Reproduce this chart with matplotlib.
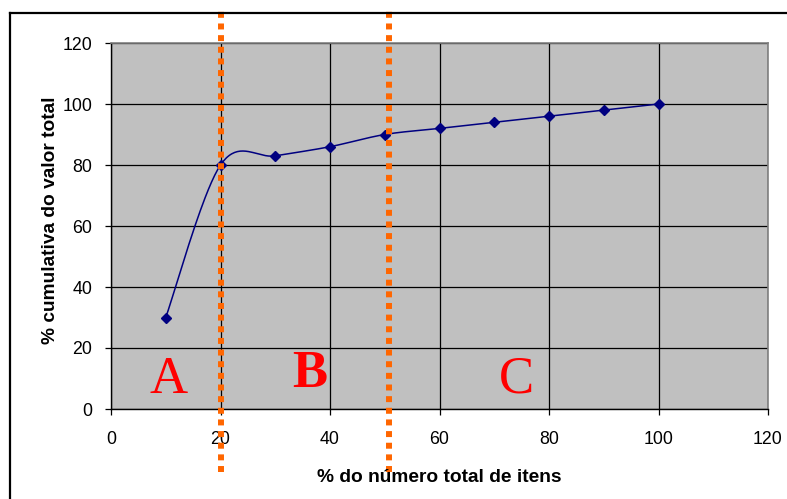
import numpy as np
import matplotlib
matplotlib.use("Agg")
import matplotlib.pyplot as plt
from matplotlib.lines import Line2D

# Data
x_pct_items = [10, 20, 30, 40, 50, 60, 70, 80, 90, 100]
y_cum_value = [30, 80, 83, 86, 90, 92, 94, 96, 98, 100]
boundaries = [20, 50.8]
zone_labels = ["A", "B", "C"]
zone_x = [10.6, 36.3, 74.0]
zone_y = [5.3, 7.2, 5.3]
zone_bold = [False, True, False]
ticks = [0, 20, 40, 60, 80, 100, 120]

plt.rcParams['font.family'] = ['Liberation Sans', 'DejaVu Sans']

W, H = 787, 499
fig = plt.figure(figsize=(W / 100, H / 100), dpi=100)
ax = fig.add_axes([111 / W, 1 - 409 / H, (768 - 111) / W, (409 - 43) / H])
ax.set_facecolor('#C0C0C0')


def excel_smooth(xs, ys, n=40):
    P = np.column_stack([xs, ys]).astype(float)
    pts = []
    m = len(P)
    for i in range(m - 1):
        p0 = P[i - 1] if i > 0 else P[i]
        p1 = P[i]
        p2 = P[i + 1]
        p3 = P[i + 2] if i + 2 < m else P[i + 1]
        c1 = p1 + (p2 - p0) / 6.0
        c2 = p2 - (p3 - p1) / 6.0
        t = np.linspace(0, 1, n)[:, None]
        seg = ((1 - t) ** 3) * p1 + 3 * ((1 - t) ** 2) * t * c1 + 3 * (1 - t) * t ** 2 * c2 + t ** 3 * p2
        pts.append(seg if i == 0 else seg[1:])
    pts = np.vstack(pts)
    return pts[:, 0], pts[:, 1]


sx, sy = excel_smooth(x_pct_items, y_cum_value)
ax.plot(sx, sy, color='#000080', lw=1.1, zorder=3)
ax.plot(x_pct_items, y_cum_value, ls='none', marker='D', ms=5.5, color='#000080', zorder=4)

ax.set_xlim(0, 120)
ax.set_ylim(0, 120)
ax.set_xticks(ticks)
ax.set_yticks(ticks)
ax.grid(True, color='black', lw=0.9, zorder=1)
ax.set_axisbelow(True)

for s in ['top', 'right']:
    ax.spines[s].set_color('#808080')
    ax.spines[s].set_linewidth(1.2)
for s in ['left', 'bottom']:
    ax.spines[s].set_color('black')
    ax.spines[s].set_linewidth(1.0)

ax.tick_params(axis='both', direction='out', length=4.5, width=0.9, labelsize=12.8, colors='black')
ax.tick_params(axis='x', pad=11)
ax.tick_params(axis='y', pad=9)

fig.text(439 / W, 1 - 482 / H, '% do número total de itens', fontsize=13.8, fontweight='bold',
         ha='center', va='baseline')
fig.text(55 / W, 1 - 220 / H, '% cumulativa do valor total', fontsize=13.8, fontweight='bold',
         ha='center', va='baseline', rotation=90, rotation_mode='anchor')

for bx in boundaries:
    ax.plot([bx, bx], [-20.5, 131.5], color='#FF6600', lw=4.3,
            linestyle=(0, (1, 0.95)), dash_capstyle='butt', clip_on=False, zorder=5)

for lab, lx, ly, b in zip(zone_labels, zone_x, zone_y, zone_bold):
    ax.text(lx, ly, lab, color='red', fontsize=38, ha='center', va='baseline',
            family=['Liberation Serif', 'DejaVu Serif'], fontweight='bold' if b else 'normal', zorder=6)

# figure border (top and left visible)
fig.add_artist(Line2D([10 / W, 1], [1 - 13 / H, 1 - 13 / H], color='black', lw=1.6, transform=fig.transFigure))
fig.add_artist(Line2D([10 / W, 10 / W], [0, 1 - 13 / H], color='black', lw=1.6, transform=fig.transFigure))

fig.savefig('out.png', dpi=100)
